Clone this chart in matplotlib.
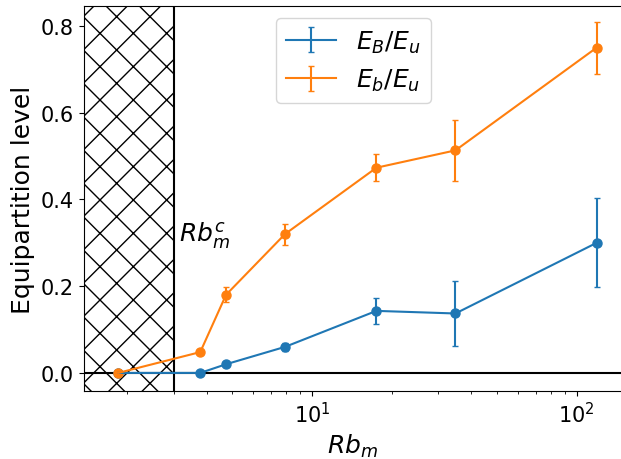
import matplotlib
matplotlib.use('Agg')
import matplotlib.pyplot as plt
import numpy as np

# data
rb = [1.85, 3.78, 4.73, 7.9, 17.5, 34.8, 119.0]
eB = [0.0, 0.0, 0.020, 0.060, 0.143, 0.137, 0.300]
eB_err = [0.0, 0.0, 0.005, 0.010, 0.030, 0.076, 0.103]
eb = [0.0, 0.048, 0.180, 0.320, 0.473, 0.513, 0.750]
eb_err = [0.0, 0.0, 0.017, 0.024, 0.031, 0.070, 0.060]
rb_crit = 3.0


def main():
    fig = plt.figure(figsize=(6.21, 4.6), dpi=100)
    ax = fig.add_axes([0.135, 0.148, 0.867, 0.837])

    ax.set_xscale('log')
    ax.set_xlim(1.373, 148.5)
    ax.set_ylim(-0.0415, 0.846)

    ax.axvspan(1.0, rb_crit, fill=False, hatch='x', edgecolor='black', linewidth=0)
    ax.axvline(rb_crit, color='black', lw=1.5)
    ax.axhline(0, color='black', lw=1.5)

    ax.errorbar(rb, eB, yerr=eB_err, color='C0', capsize=2.5, label='$E_B/E_u$')
    ax.plot(rb, eB, 'o', color='C0', ms=6.5)
    ax.errorbar(rb, eb, yerr=eb_err, color='C1', capsize=2.5, label='$E_b/E_u$')
    ax.plot(rb, eb, 'o', color='C1', ms=6.5)

    ax.text(3.15, 0.32, '$Rb_m^c$', fontsize=18, va='center', ha='left')

    ax.set_xlabel('$Rb_m$', fontsize=18)
    ax.set_ylabel('Equipartition level', fontsize=18)
    ax.set_yticks([0.0, 0.2, 0.4, 0.6, 0.8])
    ax.tick_params(labelsize=15)
    ax.legend(loc='upper center', fontsize=18)

    plt.savefig('out.png', dpi=100)


if __name__ == '__main__':
    main()
